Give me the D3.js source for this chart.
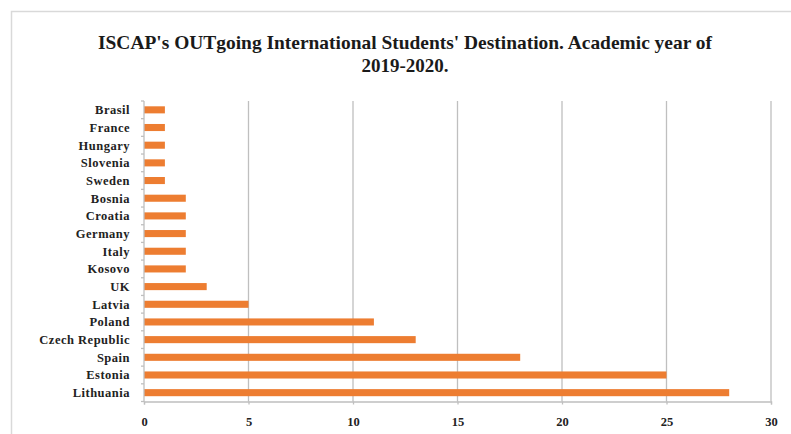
<!DOCTYPE html>
<html><head><meta charset="utf-8">
<script src="https://cdn.jsdelivr.net/npm/d3@7"></script>
<style>body{margin:0;background:#fff;}svg{display:block;}</style>
</head><body>
<svg id="chart" width="791" height="434"></svg>
<script>
const categories = ["Brasil","France","Hungary","Slovenia","Sweden","Bosnia","Croatia","Germany","Italy","Kosovo","UK","Latvia","Poland","Czech Republic","Spain","Estonia","Lithuania"];
const values = [1,1,1,1,1,2,2,2,2,2,3,5,11,13,18,25,28];
const xTicks = [0,5,10,15,20,25,30];
const titleLines = ["ISCAP's OUTgoing International Students' Destination. Academic year of","2019-2020."];

const svg = d3.select("#chart");
const font = "'Liberation Serif','Times New Roman',serif";
const m = {left:144, right:771, top:101, bottom:401.5};

svg.append("rect").attr("x",11.5).attr("y",11.5).attr("width",800).attr("height",440)
  .attr("fill","#fff").attr("stroke","#d9d9d9").attr("stroke-width",1.5);

svg.selectAll("text.title").data(titleLines).enter().append("text")
  .attr("class","title").attr("x",405).attr("y",(d,i)=>48.5+i*23.3)
  .attr("text-anchor","middle").attr("font-family",font).attr("font-weight","bold")
  .attr("font-size",19).attr("fill","#1a1a1a")
  .each(function(d,i){ if(i===0) d3.select(this).attr("textLength",614).attr("lengthAdjust","spacingAndGlyphs"); })
  .text(d=>d);

const x = d3.scaleLinear().domain([0,30]).range([m.left,m.right]);
const y = d3.scaleBand().domain(categories).range([m.top,m.bottom]).paddingInner(0.6).paddingOuter(0.3);

// gridlines
svg.append("g").selectAll("line").data(xTicks.filter(t=>t>0)).enter().append("line")
  .attr("x1",d=>x(d)).attr("x2",d=>x(d)).attr("y1",m.top).attr("y2",m.bottom)
  .attr("stroke","#bfbfbf").attr("stroke-width",1.3);

// bars
svg.append("g").selectAll("rect").data(categories).enter().append("rect")
  .attr("x",x(0)).attr("y",d=>y(d)).attr("height",y.bandwidth())
  .attr("width",(d,i)=>x(values[i])-x(0)).attr("fill","#ED7D31");

// x axis
const xAxis = d3.axisBottom(x).tickValues(xTicks).tickSize(3).tickPadding(13);
const gx = svg.append("g").attr("transform",`translate(0,${m.bottom})`).call(xAxis);
gx.select(".domain").attr("stroke","#bfbfbf").attr("stroke-width",1.3);
gx.selectAll(".tick line").attr("stroke","#bfbfbf").attr("stroke-width",1.3);
gx.selectAll("text").attr("font-family",font).attr("font-weight","bold").attr("font-size",12.5).attr("fill","#222");

// y axis line and tick marks at band boundaries
const bounds = d3.range(categories.length+1).map(i=>m.top + i*(m.bottom-m.top)/categories.length);
svg.append("line").attr("x1",m.left).attr("x2",m.left).attr("y1",m.top).attr("y2",m.bottom)
  .attr("stroke","#bfbfbf").attr("stroke-width",1.3);
svg.append("g").selectAll("line").data(bounds).enter().append("line")
  .attr("x1",m.left-3).attr("x2",m.left).attr("y1",d=>d).attr("y2",d=>d)
  .attr("stroke","#bfbfbf").attr("stroke-width",1.3);

// category labels
svg.append("g").selectAll("text").data(categories).enter().append("text")
  .attr("x",130).attr("y",d=>y(d)+y.bandwidth()/2).attr("dy","0.35em")
  .attr("text-anchor","end").attr("font-family",font).attr("font-weight","bold")
  .attr("font-size",12.5).attr("fill","#222").attr("letter-spacing",0.5).text(d=>d);
</script>
</body></html>
